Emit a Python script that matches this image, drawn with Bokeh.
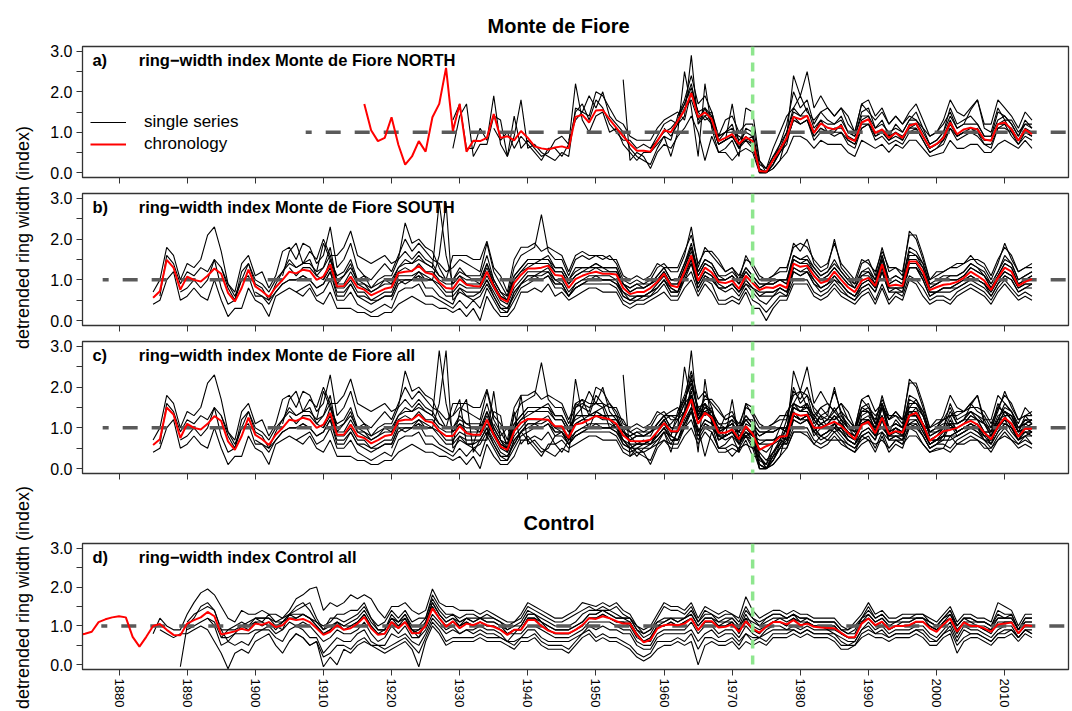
import math
from bokeh.plotting import figure
from bokeh.models import (Range1d, FixedTicker, PrintfTickFormatter, CustomJSTickFormatter,
                          Span, Label, Legend, LegendItem)
from bokeh.layouts import row, column
from bokeh.embed import file_html
from bokeh.resources import INLINE

FONT = "Liberation Sans"

# ---------------- data ----------------
TICK_YEARS = list(range(1880, 2011, 10))
Y_TICKS = [0, 1, 2, 3]
Y_MINOR = [0.5, 1.5, 2.5]
EVENT_YEAR = 1973

NORTH_CHRON_START = 1916
NORTH_CHRON = [
    1.70, 1.05, 0.78, 0.86, 1.37, 0.69, 0.20, 0.40, 0.78, 0.52,
    1.37, 1.70, 2.59, 1.03, 1.70, 0.52, 0.79, 0.78, 0.86, 1.45,
    0.86, 0.90, 0.80, 1.03, 0.86, 0.65, 0.60, 0.57, 0.62, 0.65,
    0.60, 1.38, 1.43, 1.24, 1.54, 1.55, 1.32, 1.11, 0.90, 0.71,
    0.54, 0.54, 0.52, 0.78, 1.05, 1.00, 1.28, 1.54, 1.97, 1.37,
    1.49, 1.32, 0.78, 0.86, 0.95, 0.71, 0.88, 0.78, 0.04, 0.02,
    0.31, 0.57, 0.86, 1.38, 1.32, 1.41, 0.98, 1.22, 1.11, 1.07,
    1.16, 0.86, 0.78, 1.24, 1.32, 0.98, 1.07, 0.86, 0.98, 0.86,
    1.16, 1.22, 0.90, 0.62, 0.71, 0.86, 1.24, 0.95, 1.07, 1.11,
    1.07, 0.82, 0.79, 1.20, 1.24, 1.07, 0.79, 1.07, 0.95]

SOUTH_CHRON_START = 1885
SOUTH_CHRON = [
    0.56, 0.72, 1.49, 1.30, 0.76, 1.08, 1.00, 0.96, 1.10, 1.28,
    1.15, 0.68, 0.47, 0.80, 1.25, 0.84, 0.72, 0.58, 0.82, 1.00,
    1.20, 1.16, 1.25, 1.22, 1.00, 1.08, 1.38, 0.84, 0.85, 1.08,
    0.82, 0.76, 0.62, 0.70, 0.78, 0.82, 1.17, 1.20, 1.22, 1.34,
    1.18, 1.14, 0.94, 0.80, 0.78, 1.02, 0.88, 0.85, 0.84, 1.20,
    0.84, 0.55, 0.46, 0.92, 1.12, 1.28, 1.28, 1.30, 1.35, 1.12,
    1.10, 0.80, 1.02, 1.10, 1.16, 1.20, 1.15, 1.15, 1.13, 0.80,
    0.65, 0.70, 0.70, 0.80, 0.95, 1.15, 0.86, 0.82, 1.20, 1.60,
    0.98, 1.30, 1.18, 0.95, 0.92, 0.98, 0.78, 1.10, 0.92, 0.75,
    0.82, 0.80, 0.88, 0.80, 1.40, 1.32, 1.35, 1.10, 0.92, 0.98,
    1.20, 1.00, 0.82, 0.70, 0.98, 1.05, 0.85, 1.38, 0.85, 0.88,
    0.85, 1.45, 1.45, 1.20, 0.75, 0.82, 0.88, 0.90, 0.95, 1.05,
    1.20, 1.10, 0.98, 0.75, 1.05, 1.30, 1.20, 0.85, 0.95, 1.02]

ALL_CHRON_START = 1885
ALL_CHRON = [
    0.58, 0.72, 1.50, 1.33, 0.75, 1.10, 1.00, 0.96, 1.10, 1.29,
    1.17, 0.67, 0.46, 0.80, 1.25, 0.83, 0.72, 0.58, 0.83, 1.00,
    1.20, 1.17, 1.25, 1.20, 1.00, 1.08, 1.37, 0.83, 0.83, 1.08,
    0.80, 0.75, 0.62, 0.70, 0.80, 0.83, 1.17, 1.20, 1.20, 1.33,
    1.17, 1.13, 0.92, 0.80, 0.80, 1.04, 0.87, 0.83, 0.83, 1.20,
    0.83, 0.54, 0.46, 0.92, 1.12, 1.22, 1.22, 1.21, 1.20, 1.04,
    1.04, 0.75, 1.08, 1.12, 1.20, 1.29, 1.25, 1.21, 1.10, 0.82,
    0.68, 0.67, 0.67, 0.71, 0.90, 1.12, 0.92, 0.92, 1.30, 1.70,
    1.10, 1.37, 1.25, 0.88, 0.88, 0.96, 0.72, 1.04, 0.85, 0.46,
    0.55, 0.62, 0.78, 0.80, 1.36, 1.30, 1.32, 1.00, 1.00, 1.08,
    1.15, 1.05, 0.88, 0.72, 1.07, 1.15, 0.87, 1.25, 0.85, 0.92,
    0.88, 1.30, 1.37, 1.08, 0.68, 0.80, 0.92, 0.95, 1.00, 1.10,
    1.17, 1.08, 0.88, 0.72, 1.03, 1.25, 1.10, 0.78, 0.98, 0.98]

CONTROL_CHRON_START = 1874
CONTROL_CHRON = [
    0.76, 0.80, 0.85, 1.10, 1.17, 1.22, 1.25, 1.22, 0.72, 0.47,
    0.72, 1.00, 1.05, 0.90, 0.77, 0.76, 1.06, 1.15, 1.22, 1.36,
    1.25, 0.78, 0.82, 0.86, 0.93, 0.88, 1.06, 1.03, 1.10, 0.97,
    1.02, 1.19, 1.15, 1.18, 1.10, 0.94, 0.77, 0.85, 1.02, 0.90,
    0.94, 1.06, 1.23, 0.94, 0.77, 0.80, 1.10, 0.94, 1.10, 0.81,
    0.82, 1.00, 1.45, 1.20, 0.98, 1.12, 0.94, 1.06, 1.02, 1.10,
    1.02, 0.98, 0.90, 0.77, 0.90, 0.90, 1.15, 1.15, 1.00, 0.88,
    0.82, 0.81, 0.81, 0.90, 1.02, 1.20, 1.18, 1.25, 1.20, 1.12,
    1.06, 1.06, 0.77, 0.58, 0.64, 0.93, 1.02, 1.04, 1.02, 1.06,
    1.19, 0.89, 1.12, 1.12, 0.96, 0.98, 1.04, 0.85, 1.12, 0.93,
    0.83, 0.98, 1.10, 1.10, 1.04, 1.15, 1.02, 1.06, 0.98, 0.96,
    0.95, 0.94, 0.82, 0.71, 0.71, 1.06, 1.19, 1.02, 1.11, 0.92,
    1.00, 1.00, 1.02, 1.11, 1.11, 0.94, 0.85, 1.04, 1.19, 0.85,
    1.09, 1.00, 1.00, 0.94, 0.85, 1.04, 1.06, 1.09, 0.81, 1.02,
    1.00]

# single series: (first year, values)
N1 = (1929, [1.3, 1.7, 0.6, 0.6, 1.1, 0.8, 1.9, 0.7, 0.4, 0.9,
             1.8, 0.6, 0.7, 0.5, 0.4, 0.3, 0.5, 0.4, 1.6, 1.5,
             1.9, 1.6, 2.0, 1.4, 1.2, 1.0, 0.6, 0.4, 0.3, 0.2,
             0.6, 0.9, 0.8, 1.4, 1.8, 2.4, 1.7, 1.9, 1.5, 0.9,
             1.0, 1.2, 0.6, 1.1, 1.0, 0.2, 0.1, 0.4, 0.7, 1.2,
             2.0, 1.6, 1.8, 1.2, 1.5, 1.3, 1.2, 1.4, 1.0, 0.9,
             1.5, 1.6, 1.1, 1.3, 0.9, 1.2, 1.0, 1.3, 1.5, 1.1,
             0.7, 0.8, 1.0, 1.6, 1.2, 1.3, 1.4, 1.2, 0.9, 0.9,
             1.5, 1.4, 1.2, 0.9, 1.3, 1.1])
N2 = (1929, [0.6, 1.4, 1.7, 0.4, 0.7, 0.7, 1.4, 1.3, 0.4, 1.4,
             0.6, 0.8, 0.6, 0.4, 0.5, 0.8, 0.9, 0.7, 1.5, 1.7,
             1.3, 1.8, 1.6, 1.2, 1.0, 0.8, 0.8, 0.6, 0.7, 0.6,
             0.9, 1.2, 1.3, 1.2, 1.4, 2.9, 1.2, 1.6, 1.2, 0.7,
             0.8, 1.7, 0.7, 0.8, 0.6, 0.1, 0.0, 0.2, 0.5, 0.7,
             1.4, 1.2, 1.3, 0.8, 1.0, 1.0, 0.9, 1.0, 0.7, 0.6,
             1.1, 1.2, 0.8, 0.9, 0.7, 0.8, 0.7, 1.0, 1.1, 0.8,
             0.5, 0.6, 0.7, 1.1, 0.8, 0.9, 1.0, 0.9, 0.7, 0.6,
             1.1, 1.2, 0.9, 0.7, 0.9, 0.8])
N3 = (1935, [1.1, 0.8, 1.0, 0.6, 0.9, 0.7, 0.5, 0.3, 0.6, 0.6,
             0.4, 0.7, 2.2, 1.3, 1.0, 1.4, 1.5, 1.0, 1.1, 0.7,
             0.5, 0.3, 0.5, 0.5, 0.7, 0.9, 0.4, 1.0, 2.5, 1.6,
             0.4, 2.2, 1.1, 0.5, 0.6, 0.8, 0.4, 1.6, 1.5, 0.3,
             0.0, 0.1, 0.3, 0.9, 2.4, 1.9, 2.5, 1.6, 1.9, 1.6,
             1.4, 1.6, 1.4, 1.0, 1.7, 1.8, 1.4, 1.6, 1.2, 1.4,
             1.2, 1.5, 1.7, 1.3, 0.9, 1.0, 1.3, 1.8, 1.5, 1.4,
             1.6, 1.8, 1.2, 1.2, 1.8, 1.6, 1.4, 1.1, 1.5, 1.3])
N4 = (1946, [0.8, 1.3, 1.5, 1.4, 2.0, 1.9, 1.6, 1.3, 1.2, 0.9,
             0.8, 0.8, 0.8, 1.1, 1.3, 1.4, 1.5, 1.3, 2.0, 1.5,
             1.3, 1.4, 0.9, 1.3, 1.4, 1.0, 1.2, 1.2, 0.3, 0.1,
             0.6, 1.0, 1.4, 1.6, 1.9, 1.5, 1.3, 1.5, 1.6, 1.4,
             1.6, 1.2, 1.0, 1.7, 1.5, 1.3, 1.5, 1.2, 1.4, 1.2,
             1.4, 1.3, 1.1, 0.9, 1.0, 1.2, 1.5, 1.1, 1.2, 1.55,
             1.8, 1.1, 1.0, 1.6, 1.3, 1.3, 1.0, 1.2, 1.2])
N5 = (1954, [2.3, 0.3, 0.5, 0.4, 0.1, 0.5, 0.7, 0.6, 0.9, 1.1,
             1.4, 1.0, 0.3, 0.9, 0.5, 0.5, 0.3, 0.5, 0.6, 0.5,
             0.0, 0.0, 0.1, 0.3, 0.5, 0.9, 0.9, 0.8, 0.6, 0.8,
             0.7, 0.7, 0.7, 0.5, 0.4, 0.8, 0.7, 0.6, 0.7, 0.5,
             0.7, 0.6, 0.8, 0.8, 0.6, 0.4, 0.45, 0.5, 0.8, 0.6,
             0.6, 0.7, 0.7, 0.5, 0.5, 0.7, 0.8, 0.7, 0.6, 0.8,
             0.6])
N6 = (1958, [0.6, 0.8, 1.0, 1.1, 1.3, 1.7, 2.2, 1.4, 1.4, 1.5,
             0.8, 1.0, 1.0, 0.9, 0.8, 0.9, 0.0, 0.0, 0.2, 0.6,
             1.0, 1.5, 1.4, 1.4, 1.0, 1.3, 1.0, 1.0, 1.2, 0.8,
             0.7, 1.3, 1.4, 0.9, 1.0, 0.8, 1.0, 0.8, 1.2, 1.2,
             0.9, 0.6, 0.7, 0.9, 1.3, 0.9, 1.0, 1.0, 1.1, 0.8,
             0.8, 1.2, 1.3, 1.0, 0.8, 1.0, 0.9])
N7 = (1960, [1.1, 0.9, 1.2, 1.6, 1.8, 1.3, 1.6, 1.2, 0.7, 0.8,
             0.9, 0.6, 0.9, 0.7, 0.1, 0.0, 0.4, 0.6, 0.8, 1.3,
             1.2, 1.3, 0.9, 1.1, 1.0, 1.1, 1.1, 0.9, 0.8, 1.2,
             1.2, 1.0, 1.0, 0.9, 1.0, 0.9, 1.1, 1.2, 0.9, 0.6,
             0.7, 0.8, 1.2, 0.9, 1.0, 1.1, 1.0, 0.8, 0.8, 1.2,
             1.2, 1.1, 0.8, 1.1, 1.0])
N8 = (1962, [1.4, 1.7, 2.1, 1.5, 1.6, 1.4, 0.9, 1.0, 1.1, 0.8,
             1.0, 0.9, 0.1, 0.0, 0.3, 0.7, 1.0, 1.6, 1.4, 1.6,
             1.1, 1.3, 1.2, 1.2, 1.3, 1.0, 0.9, 1.4, 1.4, 1.1,
             1.2, 1.0, 1.1, 1.0, 1.3, 1.3, 1.0, 0.7, 0.8, 1.0,
             1.4, 1.1, 1.2, 1.2, 1.2, 0.9, 0.9, 1.3, 1.4, 1.2,
             0.9, 1.2, 1.1])
N9 = (1965, [1.2, 1.4, 1.2, 0.7, 0.8, 0.9, 0.6, 0.8, 0.7, 0.0,
             0.0, 0.2, 0.5, 0.8, 1.3, 1.2, 1.3, 0.9, 1.1, 1.0,
             1.0, 1.0, 0.8, 0.7, 1.1, 1.2, 0.9, 1.0, 0.8, 0.9,
             0.8, 1.1, 1.1, 0.8, 0.5, 0.6, 0.8, 1.1, 0.9, 1.0,
             1.0, 1.0, 0.7, 0.7, 1.1, 1.1, 1.0, 0.7, 1.0, 0.9])
NORTH_SERIES = [N1, N2, N3, N4, N5, N6, N7, N8, N9]

S1 = (1885, [0.7, 1.0, 1.8, 1.6, 1.0, 1.4, 1.3, 1.5, 2.1, 2.3,
             1.7, 0.9, 0.7, 1.4, 1.6, 1.1, 1.2, 0.8, 1.1, 1.7,
             1.8, 1.5, 1.9, 1.8, 1.4, 1.6, 2.3, 1.3, 1.5, 1.9,
             1.3, 1.1, 1.0, 1.2, 1.4, 1.2, 1.6, 2.0, 1.7, 1.9,
             1.7, 1.5, 1.4, 1.2, 1.3, 1.5, 1.4, 1.3, 1.2, 1.9,
             1.2, 0.9, 0.6, 1.3, 1.6, 1.7, 1.8, 2.6, 1.7, 1.5,
             1.5, 1.1, 1.5, 1.6, 1.5, 1.6, 1.5, 1.6, 1.4, 1.0,
             0.9, 1.0, 0.9, 1.0, 1.3, 1.4, 1.2, 1.2, 1.6, 2.3,
             1.3, 1.8, 1.6, 1.4, 1.2, 1.3, 1.0, 1.6, 1.3, 1.0,
             1.0, 1.1, 1.2, 1.2, 1.9, 1.7, 2.0, 1.4, 1.2, 1.3,
             2.0, 1.3, 1.1, 0.9, 1.4, 1.5, 1.1, 1.8, 1.2, 1.3,
             1.1, 2.2, 2.0, 1.5, 1.0, 1.1, 1.2, 1.3, 1.3, 1.4,
             1.6, 1.4, 1.3, 1.0, 1.4, 1.9, 1.5, 1.2, 1.3, 1.4])
S2 = (1885, [0.4, 0.5, 1.0, 1.2, 0.5, 0.6, 0.8, 0.6, 0.5, 1.0,
             0.5, 0.1, 0.3, 0.3, 0.8, 0.5, 0.4, 0.1, 0.6, 0.7,
             0.8, 0.7, 0.6, 0.8, 0.5, 0.4, 0.7, 0.3, 0.3, 0.3,
             0.2, 0.2, 0.1, 0.1, 0.2, 0.2, 0.4, 0.5, 0.6, 0.5,
             0.4, 0.4, 0.3, 0.3, 0.2, 0.3, 0.1, 0.3, 0.0, 0.6,
             0.3, 0.1, 0.1, 0.3, 0.7, 0.7, 0.8, 0.7, 0.9, 0.6,
             0.7, 0.5, 0.6, 0.7, 0.8, 0.8, 0.7, 0.7, 0.7, 0.4,
             0.3, 0.4, 0.4, 0.5, 0.6, 0.7, 0.5, 0.5, 0.8, 1.0,
             0.6, 0.9, 0.7, 0.4, 0.4, 0.5, 0.4, 0.7, 0.3, 0.3,
             0.0, 0.3, 0.5, 0.5, 0.9, 0.9, 0.9, 0.6, 0.5, 0.6,
             0.8, 0.6, 0.5, 0.4, 0.6, 0.7, 0.4, 0.8, 0.4, 0.6,
             0.5, 1.0, 0.9, 0.6, 0.4, 0.5, 0.5, 0.4, 0.6, 0.7,
             0.8, 0.7, 0.6, 0.4, 0.7, 0.9, 0.7, 0.5, 0.6, 0.5])
S3 = (1886, [0.6, 1.6, 1.4, 0.9, 1.2, 1.1, 1.3, 1.2, 1.5, 1.3,
             0.8, 0.5, 1.2, 1.4, 0.9, 0.8, 0.5, 0.9, 1.2, 1.5,
             1.3, 1.4, 1.5, 1.1, 1.3, 1.8, 0.9, 1.1, 1.4, 0.9,
             0.9, 0.7, 0.8, 1.0, 0.9, 1.3, 1.5, 1.4, 1.6, 1.4,
             1.3, 2.9, 1.6, 0.9, 1.1, 1.0, 1.0, 0.9, 1.4, 0.9,
             0.6, 0.5, 1.0, 1.2, 1.4, 1.4, 1.5, 1.5, 1.2, 1.2,
             0.9, 1.1, 1.2, 1.3, 1.3, 1.3, 1.2, 1.2, 0.9, 0.7,
             0.8, 0.8, 0.9, 1.0, 1.2, 0.9, 0.9, 1.3, 1.8, 1.1,
             1.4, 1.3, 1.0, 1.0, 1.1, 0.9, 1.2, 1.0, 0.8, 0.9,
             0.9, 1.0, 0.9, 1.5, 1.4, 1.5, 1.2, 1.0, 1.1, 1.3,
             1.1, 0.9, 0.8, 1.1, 1.2, 0.9, 1.5, 0.9, 1.0, 0.9,
             1.6, 1.6, 1.3, 0.8, 0.9, 1.0, 1.0, 1.0, 1.1, 1.3,
             1.2, 1.1, 0.8, 1.1, 1.4, 1.3, 0.9, 1.0, 1.1])
S4 = (1889, [0.7, 0.8, 1.0, 0.8, 1.0, 1.5, 0.8, 0.4, 0.5, 1.0,
             1.1, 0.6, 0.6, 0.4, 0.7, 0.9, 1.0, 1.0, 1.1, 1.0,
             0.8, 0.9, 1.2, 0.6, 0.6, 0.9, 0.6, 0.5, 0.4, 0.5,
             0.6, 0.6, 1.0, 0.9, 1.0, 1.1, 1.0, 1.0, 1.6, 2.9,
             0.5, 0.7, 0.6, 0.6, 0.7, 1.0, 0.6, 0.3, 0.3, 0.6,
             0.9, 1.1, 1.1, 1.0, 1.1, 0.9, 0.9, 0.6, 0.8, 0.9,
             1.0, 1.0, 1.0, 1.0, 0.9, 0.6, 0.5, 0.5, 0.6, 0.6,
             0.8, 1.0, 0.7, 0.7, 1.1, 1.4, 0.8, 1.1, 1.0, 0.8,
             0.7, 0.8, 0.6, 0.9, 0.7, 0.5, 0.4, 0.6, 0.7, 0.6,
             1.2, 1.1, 1.2, 0.9, 0.7, 0.8, 1.0, 0.8, 0.6, 0.5,
             0.8, 0.9, 0.7, 1.2, 0.7, 0.7, 0.7, 1.3, 1.3, 1.0,
             0.6, 0.7, 0.7, 0.7, 0.8, 0.9, 1.0, 0.9, 0.8, 0.6,
             0.9, 1.1, 1.0, 0.7, 0.8, 0.8])
S5 = (1904, [1.1, 1.7, 1.9, 1.4, 1.7, 1.5, 2.0, 1.6, 1.6, 1.8,
             2.2, 1.6, 1.5, 1.4, 1.5, 1.6, 1.4, 1.5, 2.4, 1.9,
             2.0, 1.8, 1.7, 1.3, 1.0, 1.6, 1.6, 1.6, 1.5, 1.5,
             1.95, 1.3, 1.1, 0.7, 1.5, 1.8, 1.8, 1.9, 1.7, 1.8,
             1.7, 1.6, 1.2, 1.6, 1.7, 1.6, 1.6, 1.6, 1.5, 1.5,
             1.1, 1.0, 1.1, 1.0, 1.1, 1.4, 1.3, 1.3, 1.3, 1.7,
             2.1, 1.4, 1.7, 1.7, 1.5, 1.2, 1.3, 1.1, 1.5, 1.4,
             1.1, 1.0, 1.1, 1.3, 1.3, 1.8, 1.9, 1.8, 1.5, 1.3,
             1.4, 1.9, 1.4, 1.2, 1.0, 1.5, 1.4, 1.2, 1.7, 1.3,
             1.3, 1.2, 2.1, 2.1, 1.6, 1.0, 1.2, 1.2, 1.3, 1.4,
             1.4, 1.5, 1.5, 1.4, 1.1, 1.5, 1.8, 1.6, 1.2, 1.3,
             1.3])
S6 = (1906, [0.7, 0.8, 0.9, 0.6, 0.7, 1.0, 0.5, 0.5, 0.7, 0.4,
             0.3, 0.2, 0.3, 0.4, 0.3, 0.7, 0.8, 0.8, 0.9, 0.6,
             0.6, 0.5, 0.4, 0.3, 0.5, 0.3, 0.5, 0.3, 0.8, 0.5,
             0.2, 0.2, 0.5, 0.8, 0.9, 1.0, 1.0, 1.1, 0.8, 0.8,
             0.6, 0.8, 0.9, 0.9, 0.9, 0.9, 0.9, 0.8, 0.5, 0.4,
             0.5, 0.5, 0.6, 0.7, 0.9, 0.6, 0.6, 1.0, 1.2, 0.7,
             1.0, 0.9, 0.5, 0.5, 0.6, 0.5, 0.8, 0.5, 0.4, 0.2,
             0.4, 0.6, 0.6, 1.0, 1.0, 1.0, 0.7, 0.6, 0.7, 0.9,
             0.7, 0.6, 0.5, 0.7, 0.8, 0.5, 0.9, 0.5, 0.7, 0.6,
             1.1, 1.0, 0.8, 0.5, 0.6, 0.6, 0.5, 0.7, 0.8, 0.9,
             0.8, 0.7, 0.5, 0.8, 1.0, 0.8, 0.6, 0.7, 0.6])
S7 = (1909, [1.2, 1.9, 1.5, 1.1, 1.2, 1.5, 1.0, 1.1, 0.8, 1.0,
             1.1, 1.1, 1.5, 1.7, 1.5, 1.7, 1.5, 1.4, 1.1, 1.0,
             1.0, 1.3, 1.1, 1.1, 1.1, 1.6, 1.0, 0.7, 0.5, 1.1,
             1.3, 1.5, 1.5, 1.5, 1.6, 1.3, 1.3, 1.0, 1.3, 1.3,
             1.3, 1.4, 1.3, 1.3, 1.3, 0.9, 0.8, 0.9, 0.8, 0.9,
             1.1, 1.3, 1.0, 1.0, 1.4, 1.9, 1.2, 1.5, 1.4, 1.1,
             1.0, 1.1, 0.9, 1.3, 1.1, 0.9, 0.9, 1.0, 1.0, 1.0,
             1.6, 1.5, 1.6, 1.3, 1.1, 1.2, 1.5, 1.2, 1.0, 0.8,
             1.2, 1.3, 1.0, 1.6, 1.0, 1.1, 1.0, 1.8, 1.7, 1.4,
             0.9, 0.9, 1.0, 1.1, 1.1, 1.2, 1.4, 1.3, 1.1, 0.9,
             1.2, 1.6, 1.4, 1.0, 1.1, 1.2])
S8 = (1920, [0.5, 0.9, 1.0, 1.0, 1.1, 0.8, 0.8, 0.6, 0.5, 0.4,
             0.8, 0.6, 0.5, 0.6, 0.9, 0.6, 0.3, 0.2, 0.7, 0.9,
             1.0, 1.1, 1.2, 1.2, 1.0, 0.9, 0.6, 0.9, 1.0, 1.0,
             1.1, 1.0, 1.0, 1.0, 0.6, 0.5, 0.6, 0.6, 0.7, 0.8,
             1.0, 0.8, 0.7, 1.2, 1.5, 0.9, 1.2, 1.1, 0.8, 0.8,
             0.9, 0.7, 1.0, 0.8, 0.6, 0.6, 0.6, 0.8, 0.7, 1.3,
             1.2, 1.2, 1.0, 0.8, 0.9, 1.1, 0.9, 0.7, 0.6, 0.9,
             1.0, 0.8, 1.3, 0.8, 0.8, 0.8, 1.3, 1.3, 1.1, 0.7,
             0.7, 0.8, 0.8, 0.9, 1.0, 1.1, 1.0, 0.9, 0.7, 1.0,
             1.2, 1.1, 0.8, 0.9, 0.9])
S9 = (1895, [1.3, 0.9, 0.6, 1.0, 1.4, 1.0, 0.9, 0.7, 1.0, 1.2,
             1.4, 1.3, 1.4, 1.4, 1.2, 1.3, 1.6, 1.0, 1.1, 1.3,
             1.0, 0.9, 0.8, 0.9, 1.0, 1.0, 1.3, 1.4, 1.4, 1.5,
             1.4, 1.3, 1.1, 1.0, 1.0, 1.2, 1.1, 1.0, 1.0, 1.4,
             1.0, 0.7, 0.6, 1.1, 1.3, 1.5, 1.5, 1.5, 1.5, 1.3,
             1.3, 1.0, 1.2, 1.3, 1.3, 1.4, 1.3, 1.3, 1.3, 0.9,
             0.8, 0.9, 0.9, 0.9, 1.1, 1.3, 1.0, 1.0, 1.4, 1.8,
             1.2, 1.5, 1.4, 1.1, 1.1, 1.2, 1.0, 1.3, 1.1, 0.9,
             0.9, 0.9, 1.0, 1.0, 1.6, 1.5, 1.5, 1.3, 1.1, 1.2,
             1.4, 1.2, 1.0, 0.9, 1.2, 1.2, 1.0, 1.6, 1.0, 1.1,
             1.0, 1.7, 1.6, 1.4, 0.9, 1.0, 1.1, 1.1, 1.1, 1.2,
             1.4, 1.3, 1.2, 0.9, 1.2, 1.5, 1.4, 1.0, 1.1, 1.2])
S10 = (1900, [0.7, 0.6, 0.5, 0.7, 0.9, 1.0, 1.0, 1.1, 1.0, 0.8,
              0.9, 1.2, 0.7, 0.7, 0.9, 0.6, 0.6, 0.5, 0.5, 0.6,
              0.6, 1.0, 1.0, 1.0, 1.2, 1.0, 1.0, 0.8, 0.6, 0.6,
              0.8, 0.7, 0.7, 0.7, 1.0, 0.7, 0.4, 0.3, 0.7, 0.9,
              1.1, 1.1, 1.1, 1.2, 0.9, 0.9, 0.6, 0.8, 0.9, 1.0,
              1.0, 1.0, 1.0, 0.9, 0.7, 0.5, 0.6, 0.6, 0.7, 0.8,
              1.0, 0.7, 0.7, 1.0, 1.4, 0.8, 1.1, 1.0, 0.8, 0.8,
              0.9, 0.7, 0.9, 0.8, 0.6, 0.7, 0.7, 0.8, 0.7, 1.2,
              1.1, 1.2, 0.9, 0.8, 0.9, 1.0, 0.9, 0.7, 0.6, 0.8,
              0.9, 0.7, 1.2, 0.7, 0.8, 0.7, 1.3, 1.3, 1.0, 0.6,
              0.7, 0.8, 0.8, 0.8, 0.9, 1.0, 1.0, 0.9, 0.6, 0.9,
              1.1, 1.0, 0.7, 0.8, 0.9])
S11 = (1905, [1.3, 1.1, 1.3, 1.3, 1.1, 1.0, 1.5, 0.9, 0.9, 1.2,
              0.9, 0.8, 0.7, 0.8, 0.9, 0.9, 1.2, 1.3, 1.2, 1.4,
              1.2, 1.2, 1.0, 0.9, 0.9, 1.1, 0.9, 0.9, 0.9, 1.3,
              0.9, 0.6, 0.5, 1.0, 1.2, 1.3, 1.4, 1.4, 1.4, 1.2,
              1.2, 0.9, 1.1, 1.2, 1.2, 1.3, 1.2, 1.2, 1.2, 0.9,
              0.7, 0.8, 0.8, 0.9, 1.0, 1.2, 0.9, 0.9, 1.3, 1.7,
              1.1, 1.4, 1.3, 1.0, 1.0, 1.1, 0.9, 1.2, 1.0, 0.8,
              0.9, 0.9, 1.0, 0.9, 1.5, 1.4, 1.4, 1.2, 1.0, 1.1,
              1.3, 1.1, 0.9, 0.8, 1.1, 1.1, 0.9, 1.5, 0.9, 1.0,
              0.9, 1.5, 1.5, 1.3, 0.8, 0.9, 1.0, 1.0, 1.0, 1.1,
              1.3, 1.2, 1.1, 0.8, 1.1, 1.4, 1.3, 0.9, 1.0, 1.1])
S12 = (1910, [1.0, 1.3, 0.8, 0.8, 1.0, 0.7, 0.7, 0.5, 0.6, 0.7,
              0.7, 1.1, 1.1, 1.1, 1.2, 1.1, 1.0, 0.9, 0.7, 0.7,
              0.9, 0.8, 0.8, 0.8, 1.1, 0.8, 0.5, 0.4, 0.8, 1.0,
              1.2, 1.2, 1.2, 1.3, 1.0, 1.0, 0.7, 0.9, 1.0, 1.1,
              1.1, 1.1, 1.1, 1.0, 0.7, 0.6, 0.6, 0.6, 0.7, 0.9,
              1.1, 0.8, 0.7, 1.1, 1.5, 0.9, 1.2, 1.1, 0.9, 0.8,
              0.9, 0.7, 1.0, 0.8, 0.7, 0.7, 0.7, 0.8, 0.7, 1.3,
              1.2, 1.3, 1.0, 0.8, 0.9, 1.1, 0.9, 0.7, 0.6, 0.9,
              1.0, 0.8, 1.3, 0.8, 0.8, 0.8, 1.4, 1.4, 1.1, 0.7,
              0.7, 0.8, 0.8, 0.9, 1.0, 1.1, 1.0, 0.9, 0.7, 1.0,
              1.2, 1.1, 0.8, 0.9, 0.9])
SOUTH_SERIES = [S1, S2, S3, S4, S5, S6, S7, S8, S9, S10, S11, S12]

C1 = (1885, [0.8, 1.2, 1.0, 0.9, 0.9, 1.3, 1.6, 1.85, 1.95, 1.8,
             1.5, 1.2, 1.1, 1.4, 1.3, 1.3, 1.4, 1.3, 1.3, 1.2,
             1.4, 1.7, 1.8, 1.95, 2.0, 1.4, 1.6, 1.5, 1.6, 1.8,
             1.7, 1.8, 1.7, 1.4, 1.2, 1.5, 1.5, 1.6, 1.4, 1.3,
             1.4, 1.95, 1.6, 1.5, 1.5, 1.4, 1.4, 1.4, 1.3, 1.4,
             1.3, 1.2, 1.1, 1.1, 1.3, 1.6, 1.5, 1.4, 1.3, 1.2,
             1.2, 1.3, 1.4, 1.6, 1.55, 1.5, 1.6, 1.5, 1.6, 1.4,
             1.3, 1.0, 0.9, 1.0, 1.3, 1.6, 1.5, 1.5, 1.4, 1.6,
             1.2, 1.5, 1.4, 1.3, 1.4, 1.3, 1.2, 1.75, 1.4, 1.2,
             1.3, 1.4, 1.4, 1.3, 1.4, 1.3, 1.3, 1.2, 1.2, 1.2,
             1.2, 1.0, 0.9, 1.1, 1.3, 1.6, 1.3, 1.4, 1.2, 1.2,
             1.3, 1.3, 1.3, 1.3, 1.2, 1.1, 1.3, 1.5, 1.1, 1.3,
             1.3, 1.2, 1.2, 1.1, 1.6, 1.5, 1.4, 1.0, 1.3, 1.3])
C2 = (1886, [0.9, 0.8, 0.7, 0.8, 0.8, 0.9, 1.0, 0.9, 0.6, 0.3,
             -0.1, 0.3, 0.4, 0.3, 0.6, 0.7, 0.8, 0.5, 0.3, 0.6,
             0.8, 0.7, 0.5, 0.6, -0.05, 0.2, 0.0, 0.4, 0.3, 0.5,
             0.6, 0.5, 0.4, 0.3, 0.4, 0.5, 0.6, 0.4, -0.05, 0.6,
             1.0, 0.8, 0.5, 0.6, 0.6, 0.6, 0.6, 0.7, 0.6, 0.6,
             0.6, 0.5, 0.4, 0.6, 0.6, 0.7, 0.5, 0.4, 0.4, 0.4,
             0.3, 0.5, 0.7, 0.8, 0.6, 0.7, 0.6, 0.6, 0.5, 0.4,
             0.2, 0.1, 0.2, 0.4, 0.5, 0.5, 0.6, 0.5, 0.6, 0.0,
             0.5, 0.6, 0.5, 0.5, 0.6, 0.4, 0.6, 0.5, 0.6, 0.5,
             0.7, 0.7, 0.7, 0.8, 0.7, 0.8, 0.7, 0.7, 0.7, 0.6,
             0.4, 0.4, 0.5, 0.7, 0.8, 0.7, 0.7, 0.6, 0.7, 0.7,
             0.7, 0.8, 0.7, 0.5, 0.5, 0.7, 0.8, 0.3, 0.6, 0.7,
             0.7, 0.6, 0.5, 0.7, 0.7, 0.8, 0.6, 0.8, 0.7])
C3 = (1889, [-0.05, 1.0, 1.2, 1.5, 1.6, 1.4, 0.9, 0.6, 0.8, 1.0,
             1.1, 1.2, 1.2, 1.2, 1.0, 0.9, 1.3, 1.4, 1.5, 1.6,
             1.2, 0.9, 1.2, 1.2, 1.1, 1.2, 1.3, 1.5, 1.2, 0.9,
             0.9, 1.3, 1.1, 1.3, 1.0, 1.0, 1.2, 1.7, 1.4, 1.2,
             1.3, 1.1, 1.2, 1.2, 1.2, 1.2, 1.2, 1.1, 0.9, 1.0,
             1.1, 1.4, 1.3, 1.2, 1.1, 1.0, 1.0, 1.0, 1.1, 1.3,
             1.4, 1.4, 1.4, 1.4, 1.3, 1.2, 1.2, 0.9, 0.8, 0.9,
             1.1, 1.2, 1.2, 1.2, 1.2, 1.4, 1.1, 1.3, 1.3, 1.1,
             1.2, 1.2, 1.0, 1.4, 1.2, 1.0, 1.2, 1.3, 1.3, 1.2,
             1.3, 1.2, 1.2, 1.1, 1.1, 1.1, 1.1, 0.9, 0.8, 0.9,
             1.2, 1.4, 1.2, 1.3, 1.1, 1.1, 1.2, 1.2, 1.2, 1.2,
             1.1, 1.0, 1.2, 1.4, 1.0, 1.2, 1.2, 1.1, 1.1, 1.0,
             1.3, 1.2, 1.3, 0.9, 1.2, 1.2])
C4 = (1890, [0.9, 1.0, 1.1, 1.2, 1.0, 0.5, 0.6, 0.5, 0.6, 0.5,
             0.8, 0.9, 0.9, 0.7, 0.6, 0.9, 1.0, 0.9, 0.7, 0.7,
             0.3, 0.5, 0.7, 0.6, 0.6, 0.8, 0.9, 0.6, 0.5, 0.5,
             0.8, 0.7, 0.8, 0.6, 0.5, 0.8, 1.2, 1.0, 0.8, 0.9,
             0.8, 0.9, 0.8, 0.9, 0.8, 0.8, 0.7, 0.6, 0.6, 0.7,
             0.9, 0.9, 0.7, 0.6, 0.6, 0.6, 0.6, 0.7, 0.8, 1.0,
             0.9, 1.0, 0.9, 0.9, 0.8, 0.8, 0.5, 0.4, 0.4, 0.7,
             0.8, 0.8, 0.8, 0.8, 0.9, 0.6, 0.8, 0.9, 0.7, 0.8,
             0.8, 0.6, 0.8, 0.7, 0.7, 0.8, 0.9, 0.9, 0.9, 0.9,
             0.8, 0.9, 0.8, 0.8, 0.8, 0.8, 0.6, 0.5, 0.6, 0.9,
             1.0, 0.8, 0.9, 0.7, 0.8, 0.8, 0.8, 0.9, 0.9, 0.7,
             0.6, 0.8, 1.0, 0.6, 0.9, 0.8, 0.8, 0.7, 0.6, 0.8,
             0.9, 0.9, 0.7, 0.9, 0.8])
C5 = (1893, [1.2, 1.1, 0.7, 0.9, 0.9, 1.0, 0.9, 1.1, 1.0, 1.1,
             0.9, 1.1, 1.3, 1.2, 1.3, 1.2, 1.0, 0.8, 0.9, 1.1,
             0.9, 1.0, 1.1, 1.3, 1.0, 0.8, 0.9, 1.2, 1.0, 1.2,
             0.8, 0.9, 1.0, 1.5, 1.2, 1.0, 1.1, 1.0, 1.1, 1.0,
             1.1, 1.0, 1.0, 0.9, 0.8, 0.9, 0.9, 1.2, 1.2, 1.1,
             0.9, 0.8, 0.8, 0.8, 0.9, 1.0, 1.2, 1.2, 1.3, 1.2,
             1.1, 1.1, 1.0, 0.7, 0.6, 0.6, 1.0, 1.0, 1.1, 1.0,
             1.1, 1.2, 0.9, 1.1, 1.1, 1.0, 1.0, 1.1, 0.8, 1.2,
             0.9, 0.8, 1.0, 1.1, 1.1, 1.0, 1.2, 1.0, 1.1, 1.0,
             1.0, 0.9, 0.9, 0.8, 0.7, 0.7, 1.1, 1.2, 1.0, 1.1,
             0.9, 1.0, 1.0, 1.0, 1.1, 1.1, 1.0, 0.9, 1.1, 1.2,
             0.8, 1.1, 1.0, 1.0, 0.9, 0.8, 1.1, 1.1, 1.1, 0.8,
             1.0, 1.0])
C6 = (1900, [1.2, 1.1, 1.3, 1.1, 1.2, 1.3, 1.5, 1.6, 1.4, 1.1,
             1.0, 1.1, 1.3, 1.3, 1.4, 1.4, 1.6, 1.2, 1.0, 1.1,
             1.4, 1.2, 1.4, 1.1, 1.2, 1.2, 1.8, 1.5, 1.3, 1.3,
             1.2, 1.3, 1.3, 1.2, 1.3, 1.2, 1.1, 1.0, 1.1, 1.2,
             1.5, 1.4, 1.3, 1.2, 1.1, 1.1, 1.2, 1.3, 1.4, 1.5,
             1.4, 1.5, 1.4, 1.5, 1.3, 1.2, 1.0, 0.8, 0.9, 1.2,
             1.5, 1.4, 1.4, 1.3, 1.5, 1.1, 1.4, 1.3, 1.2, 1.3,
             1.3, 1.1, 1.5, 1.2, 1.1, 1.2, 1.3, 1.3, 1.2, 1.3,
             1.2, 1.2, 1.1, 1.1, 1.1, 1.1, 0.9, 0.9, 1.0, 1.2,
             1.5, 1.2, 1.3, 1.1, 1.1, 1.2, 1.2, 1.3, 1.3, 1.1,
             1.0, 1.2, 1.4, 1.0, 1.2, 1.2, 1.1, 1.1, 1.0, 1.4,
             1.3, 1.3, 0.9, 1.2, 1.2])
C7 = (1905, [0.6, 0.8, 0.7, 0.5, 0.6, 0.2, 0.3, 0.5, 0.5, 0.4,
             0.6, 0.7, 0.5, 0.5, 0.4, 0.5, 0.6, 0.7, 0.5, 0.3,
             0.7, 1.1, 0.9, 0.6, 0.7, 0.7, 0.7, 0.7, 0.8, 0.7,
             0.7, 0.7, 0.6, 0.5, 0.7, 0.7, 0.8, 0.6, 0.5, 0.5,
             0.5, 0.4, 0.6, 0.8, 0.9, 0.7, 0.8, 0.7, 0.7, 0.6,
             0.5, 0.3, 0.2, 0.3, 0.6, 0.6, 0.6, 0.7, 0.6, 0.8,
             0.4, 0.7, 0.7, 0.6, 0.6, 0.7, 0.5, 0.8, 0.6, 0.7,
             0.6, 0.8, 0.8, 0.8, 0.9, 0.8, 0.9, 0.8, 0.8, 0.8,
             0.7, 0.5, 0.5, 0.5, 0.8, 0.9, 0.8, 0.8, 0.7, 0.8,
             0.8, 0.8, 0.9, 0.8, 0.6, 0.6, 0.8, 0.9, 0.5, 0.7,
             0.8, 0.8, 0.7, 0.6, 0.8, 0.8, 0.9, 0.7, 0.9, 0.8])
C8 = (1920, [1.2, 1.1, 1.3, 0.9, 0.7, 1.1, 1.6, 1.3, 1.1, 1.2,
             1.0, 1.2, 1.1, 1.2, 1.1, 1.1, 1.0, 0.8, 0.8, 1.0,
             1.3, 1.3, 1.1, 1.0, 0.9, 0.9, 0.9, 1.0, 1.1, 1.3,
             1.3, 1.4, 1.3, 1.2, 1.2, 1.1, 0.8, 0.6, 0.7, 1.0,
             1.1, 1.2, 1.1, 1.2, 1.3, 1.0, 1.2, 1.2, 1.0, 1.1,
             1.1, 0.9, 1.3, 1.0, 0.9, 1.0, 1.1, 1.2, 1.1, 1.2,
             1.1, 1.1, 1.0, 1.0, 1.0, 1.0, 0.8, 0.7, 0.7, 1.1,
             1.3, 1.1, 1.2, 1.0, 1.0, 1.1, 1.1, 1.2, 1.2, 1.0,
             0.9, 1.1, 1.3, 0.9, 1.1, 1.1, 1.0, 1.0, 0.9, 1.2,
             1.2, 1.2, 0.9, 1.1, 1.1])
C9 = (1890, [1.1, 1.3, 1.4, 1.5, 1.4, 0.9, 0.9, 1.0, 1.1, 1.0,
             1.2, 1.2, 1.2, 1.1, 1.1, 1.3, 1.3, 1.3, 1.2, 1.1,
             0.9, 1.0, 1.1, 1.0, 1.1, 1.2, 1.4, 1.1, 0.9, 0.9,
             1.2, 1.1, 1.2, 0.9, 0.9, 1.1, 1.6, 1.3, 1.1, 1.2,
             1.1, 1.2, 1.1, 1.2, 1.1, 1.1, 1.0, 0.9, 1.0, 1.0,
             1.3, 1.3, 1.1, 1.0, 0.9, 0.9, 0.9, 1.0, 1.1, 1.3,
             1.3, 1.4, 1.3, 1.2, 1.2, 1.2, 0.9, 0.7, 0.8, 1.1,
             1.1, 1.2, 1.1, 1.2, 1.3, 1.0, 1.2, 1.2, 1.1, 1.1,
             1.2, 1.0, 1.2, 1.1, 1.0, 1.1, 1.2, 1.2, 1.2, 1.3,
             1.1, 1.2, 1.1, 1.1, 1.1, 1.1, 0.9, 0.8, 0.8, 1.2,
             1.3, 1.1, 1.2, 1.0, 1.1, 1.1, 1.1, 1.2, 1.2, 1.1,
             1.0, 1.2, 1.3, 1.0, 1.2, 1.1, 1.1, 1.1, 1.0, 1.2,
             1.2, 1.2, 0.9, 1.1, 1.1])
C10 = (1895, [0.7, 0.7, 0.8, 0.8, 0.8, 0.9, 0.9, 1.0, 0.8, 0.9,
              1.1, 1.0, 1.1, 1.0, 0.8, 0.6, 0.7, 0.9, 0.8, 0.8,
              0.9, 1.1, 0.8, 0.6, 0.7, 1.0, 0.8, 1.0, 0.7, 0.7,
              0.9, 1.3, 1.1, 0.9, 1.0, 0.8, 0.9, 0.9, 1.0, 0.9,
              0.9, 0.8, 0.6, 0.8, 0.8, 1.0, 1.0, 0.9, 0.8, 0.7,
              0.7, 0.7, 0.8, 0.9, 1.1, 1.1, 1.1, 1.1, 1.0, 0.9,
              0.9, 0.6, 0.5, 0.5, 0.8, 0.9, 0.9, 0.9, 0.9, 1.1,
              0.8, 1.0, 1.0, 0.8, 0.9, 0.9, 0.7, 1.0, 0.8, 0.7,
              0.9, 1.0, 1.0, 0.9, 1.0, 0.9, 1.0, 0.9, 0.9, 0.9,
              0.8, 0.7, 0.6, 0.6, 0.9, 1.1, 0.9, 1.0, 0.8, 0.9,
              0.9, 0.9, 1.0, 1.0, 0.8, 0.7, 0.9, 1.1, 0.7, 1.0,
              0.9, 0.9, 0.8, 0.7, 0.9, 1.0, 1.0, 0.7, 0.9, 0.9])
C11 = (1898, [1.0, 1.0, 1.1, 1.1, 1.0, 1.0, 1.1, 1.2, 1.2, 1.3,
              1.2, 1.0, 0.8, 0.9, 1.1, 1.0, 1.0, 1.1, 1.3, 1.0,
              0.8, 0.8, 1.1, 1.0, 1.1, 0.9, 0.8, 1.0, 1.5, 1.2,
              1.0, 1.1, 1.0, 1.1, 1.0, 1.1, 1.0, 1.0, 0.9, 0.8,
              0.9, 0.9, 1.2, 1.2, 1.0, 0.9, 0.8, 0.8, 0.8, 0.9,
              1.0, 1.2, 1.2, 1.3, 1.2, 1.1, 1.1, 1.1, 0.8, 0.6,
              0.7, 1.0, 1.0, 1.1, 1.0, 1.1, 1.2, 0.9, 1.1, 1.1,
              1.0, 1.0, 1.1, 0.9, 1.1, 0.9, 0.8, 1.0, 1.1, 1.1,
              1.0, 1.2, 1.0, 1.1, 1.0, 1.0, 1.0, 1.0, 0.8, 0.7,
              0.7, 1.1, 1.2, 1.0, 1.1, 0.9, 1.0, 1.0, 1.0, 1.1,
              1.1, 1.0, 0.9, 1.0, 1.2, 0.9, 1.1, 1.0, 1.0, 0.9,
              0.9, 1.0, 1.1, 1.1, 0.8, 1.0, 1.0])
CONTROL_SERIES = [C1, C2, C3, C4, C5, C6, C7, C8, C9, C10, C11]

# ---------------- styling / layout ----------------
X0, X1 = 1874.64, 2019.36
Y0, Y1 = -0.12, 3.12
PANEL_W = 1028
FRAME_COLOR = "#333333"


def yrs(start, vals):
    return list(range(start, start + len(vals)))


def make_panel(height, b_top, b_bottom, series, chron_start, chron, letter, text,
               ref_start, xlabels=False, title=None, title_offset=0, legend=False):
    p = figure(width=PANEL_W, height=height, x_range=Range1d(X0, X1), y_range=Range1d(Y0, Y1),
               output_backend="svg", toolbar_location=None, title=title,
               min_border_left=40, min_border_right=2, min_border_top=b_top,
               min_border_bottom=b_bottom)
    p.background_fill_color = "white"
    p.border_fill_color = "white"
    p.grid.visible = False
    p.outline_line_color = FRAME_COLOR
    p.outline_line_width = 1.3
    if title is not None:
        p.title.align = "left"
        p.title.offset = title_offset
        p.title.text_font = FONT
        p.title.text_font_size = "20px"
        p.title.text_font_style = "bold"
        p.title.text_color = "black"
        p.title.standoff = 20

    first_black = None
    for start, vals in series:
        r = p.line(yrs(start, vals), vals, line_color="black", line_width=1.1)
        if first_black is None:
            first_black = r
    p.line([ref_start, X1 + 5], [1.0, 1.0], line_color="#5a5a5a", line_width=3.5,
           line_dash="15 14", line_dash_offset=9)
    red = p.line(yrs(chron_start, chron), chron, line_color="#ff0000", line_width=2.0)
    p.add_layout(Span(location=EVENT_YEAR, dimension="height", line_color="#8ee68e",
                      line_width=3.5, line_dash="9 7"))

    p.add_layout(Label(x=1876.1, y=2.78, text=letter, text_font=FONT, text_font_size="16.5px",
                       text_font_style="bold", text_baseline="middle", text_color="black"))
    p.add_layout(Label(x=1882.9, y=2.78, text=text, text_font=FONT, text_font_size="16.5px",
                       text_font_style="bold", text_baseline="middle", text_color="black"))

    if legend:
        lg = Legend(items=[LegendItem(label="single series", renderers=[first_black]),
                           LegendItem(label="chronology", renderers=[red])],
                    location=(8, 23), glyph_width=36, glyph_height=20, label_height=20,
                    label_standoff=18, spacing=2, padding=0, margin=0,
                    border_line_color=None, background_fill_alpha=0,
                    label_text_font=FONT, label_text_font_size="17px",
                    label_text_color="black")
        p.add_layout(lg)

    # axes
    yax = p.yaxis[0]
    yax.ticker = FixedTicker(ticks=Y_TICKS, minor_ticks=Y_MINOR)
    yax.formatter = PrintfTickFormatter(format="%.1f")
    yax.major_tick_out = 6
    yax.major_tick_in = 0
    yax.minor_tick_out = 6
    yax.minor_tick_in = 0
    yax.major_tick_line_color = FRAME_COLOR
    yax.minor_tick_line_color = FRAME_COLOR
    yax.axis_line_color = FRAME_COLOR
    yax.major_label_text_font = FONT
    yax.major_label_text_font_size = "16px"
    yax.major_label_text_color = "black"
    yax.major_label_standoff = 4

    xax = p.xaxis[0]
    xax.ticker = FixedTicker(ticks=TICK_YEARS)
    xax.major_tick_out = 6
    xax.major_tick_in = 0
    xax.minor_tick_line_color = None
    xax.major_tick_line_color = FRAME_COLOR
    xax.axis_line_color = FRAME_COLOR
    if xlabels:
        xax.major_label_orientation = "vertical"
        xax.major_label_text_font = FONT
        xax.major_label_text_font_size = "13px"
        xax.major_label_text_color = "black"
        xax.major_label_standoff = 3
    else:
        xax.formatter = CustomJSTickFormatter(code="return ''")
        xax.major_label_text_font_size = "1px"
        xax.major_label_standoff = 0
    return p


fa = make_panel(185, 46, 8, NORTH_SERIES, NORTH_CHRON_START, NORTH_CHRON, "a)",
                "ring\u2212width index Monte de Fiore NORTH", 1907.4,
                title="Monte de Fiore", title_offset=405, legend=True)
fb = make_panel(148, 8, 8, SOUTH_SERIES, SOUTH_CHRON_START, SOUTH_CHRON, "b)",
                "ring\u2212width index Monte de Fiore SOUTH", 1877.6)
fc = make_panel(148, 8, 8, NORTH_SERIES + SOUTH_SERIES, ALL_CHRON_START, ALL_CHRON, "c)",
                "ring\u2212width index Monte de Fiore all", 1877.6)
fd = make_panel(229, 62, 36, CONTROL_SERIES, CONTROL_CHRON_START, CONTROL_CHRON, "d)",
                "ring\u2212width index Control all", 1877.4, xlabels=True,
                title="Control", title_offset=441)

# y-axis titles, in a narrow strip on the left
STRIP_H = 710
fy = figure(width=42, height=STRIP_H, x_range=Range1d(0, 42), y_range=Range1d(0, STRIP_H),
            output_backend="svg", toolbar_location=None, min_border=0,
            x_axis_type=None, y_axis_type=None)
fy.outline_line_color = None
fy.grid.visible = False
for yy in (STRIP_H - 237, STRIP_H - 597):
    fy.add_layout(Label(x=22, y=yy, text="detrended ring width (index)", angle=math.pi / 2,
                        text_align="center", text_baseline="middle", text_font=FONT,
                        text_font_size="18px", text_color="black"))

layout = row(fy, column(fa, fb, fc, fd))
open("out.html", "w").write(file_html(layout, INLINE))
